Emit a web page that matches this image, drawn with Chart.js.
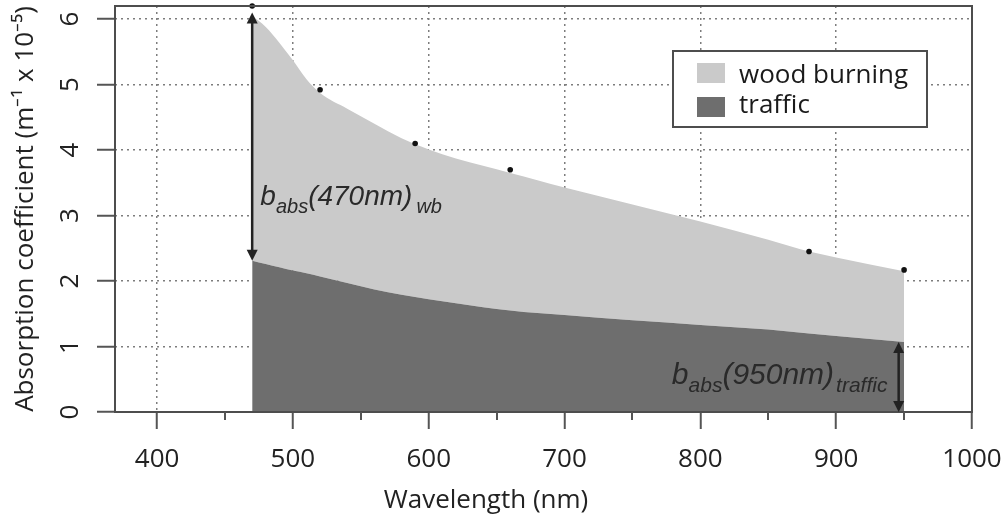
<!DOCTYPE html>
<html>
<head>
<meta charset="utf-8">
<script src="https://cdn.jsdelivr.net/npm/chart.js@4.4.0/dist/chart.umd.min.js"></script>
<style>
html, body { margin: 0; padding: 0; background: #fff; }
</style>
</head>
<body>
<canvas id="chart" width="1001" height="524"></canvas>
<script>
var longitudes = [470, 480, 490, 500, 510, 520, 540, 560, 580, 600, 620, 640, 660, 680, 700, 750, 800, 850, 880, 900, 950];
var woodBurning = [6.05, 5.88, 5.64, 5.37, 5.08, 4.87, 4.63, 4.40, 4.18, 4.01, 3.87, 3.76, 3.65, 3.54, 3.43, 3.17, 2.91, 2.63, 2.45, 2.36, 2.15];
var traffic = [2.31, 2.26, 2.21, 2.16, 2.12, 2.07, 1.97, 1.87, 1.79, 1.72, 1.66, 1.60, 1.55, 1.51, 1.48, 1.40, 1.33, 1.26, 1.20, 1.16, 1.07];
var medidasX = [470, 520, 590, 660, 880, 950];
var medidasY = [6.2, 4.92, 4.10, 3.70, 2.45, 2.17];
var ticksX = [400, 500, 600, 700, 800, 900, 1000];
var ticksXmenores = [450, 550, 650, 750, 850, 950];
var ticksY = [0, 1, 2, 3, 4, 5, 6];
var etiquetas = ['wood burning', 'traffic'];
var colores = ['#cacaca', '#6e6e6e'];

var fuente = { family: 'Open Sans', size: 26, weight: 'normal' };

function puntos(xs, ys) {
    var res = [];
    for (var i = 0; i < xs.length; i++) {
        res.push({ x: xs[i], y: ys[i] });
    }
    return res;
}

function sin_padding(s) {
    s.paddingTop = 0;
    s.paddingBottom = 0;
    s.paddingLeft = 0;
    s.paddingRight = 0;
}

function texto_sub(ctx, x, y, partes) {
    for (var i = 0; i < partes.length; i++) {
        var p = partes[i];
        x += p[3] || 0;
        ctx.font = 'italic ' + p[1] + 'px "Liberation Sans", Arial, sans-serif';
        ctx.fillText(p[0], x, y + p[2]);
        x += ctx.measureText(p[0]).width;
    }
}

function flecha(ctx, x, y1, y2) {
    var h = 11, w = 5.5;
    ctx.strokeStyle = '#222';
    ctx.fillStyle = '#222';
    ctx.lineWidth = 2.5;
    ctx.beginPath();
    ctx.moveTo(x, y1 + h - 2);
    ctx.lineTo(x, y2 - h + 2);
    ctx.stroke();
    ctx.beginPath();
    ctx.moveTo(x, y1); ctx.lineTo(x - w, y1 + h); ctx.lineTo(x + w, y1 + h); ctx.closePath();
    ctx.fill();
    ctx.beginPath();
    ctx.moveTo(x, y2); ctx.lineTo(x - w, y2 - h); ctx.lineTo(x + w, y2 - h); ctx.closePath();
    ctx.fill();
}

var extras = {
    id: 'extras',
    afterDatasetsDraw: function (chart) {
        var ctx = chart.ctx;
        var a = chart.chartArea;
        var sx = chart.scales.x;
        var sy = chart.scales.y;
        ctx.save();

        // marco
        ctx.strokeStyle = '#4d4d4d';
        ctx.lineWidth = 2;
        ctx.strokeRect(a.left, a.top, a.right - a.left, a.bottom - a.top);

        // ticks menores
        ctx.strokeStyle = '#555';
        ctx.lineWidth = 2;
        for (var i = 0; i < ticksXmenores.length; i++) {
            var px = Math.round(sx.getPixelForValue(ticksXmenores[i]));
            ctx.beginPath();
            ctx.moveTo(px, a.bottom);
            ctx.lineTo(px, a.bottom + 8);
            ctx.stroke();
        }

        // flechas
        flecha(ctx, sx.getPixelForValue(470), sy.getPixelForValue(6.1), sy.getPixelForValue(traffic[0]));
        flecha(ctx, sx.getPixelForValue(946), sy.getPixelForValue(traffic[traffic.length - 1]), sy.getPixelForValue(0));

        ctx.fillStyle = '#2a2a2a';
        ctx.textBaseline = 'alphabetic';
        ctx.textAlign = 'left';
        texto_sub(ctx, sx.getPixelForValue(476), sy.getPixelForValue(3.16),
            [['b', 28, 0], ['abs', 20, 8], ['(470nm)', 28, 0], ['wb', 20, 8, 4]]);
        texto_sub(ctx, sx.getPixelForValue(779), sy.getPixelForValue(0.42),
            [['b', 30, 0], ['abs', 21, 8], ['(950nm)', 30, 0], ['traffic', 21, 8, 2]]);

        // leyenda
        var lx = a.right - 299, ly = a.top + 45;
        ctx.fillStyle = '#fff';
        ctx.fillRect(lx, ly, 254, 76);
        ctx.strokeStyle = '#4d4d4d';
        ctx.lineWidth = 2;
        ctx.strokeRect(lx, ly, 254, 76);
        ctx.font = '26px "Open Sans", sans-serif';
        for (var j = 0; j < etiquetas.length; j++) {
            ctx.fillStyle = colores[j];
            ctx.fillRect(lx + 24, ly + 12 + j * 34, 28, 20);
            ctx.fillStyle = '#1a1a1a';
            ctx.fillText(etiquetas[j], lx + 66, ly + 32 + j * 30);
        }
        ctx.restore();
    }
};

var datos = {
    type: 'scatter',
    data: {
        datasets: [{
            label: etiquetas[1],
            data: puntos(longitudes, traffic),
            showLine: true,
            fill: 'origin',
            backgroundColor: colores[1],
            borderWidth: 0,
            pointRadius: 0,
            cubicInterpolationMode: 'monotone'
        }, {
            label: etiquetas[0],
            data: puntos(longitudes, woodBurning),
            showLine: true,
            fill: '-1',
            backgroundColor: colores[0],
            borderWidth: 0,
            pointRadius: 0,
            cubicInterpolationMode: 'monotone'
        }, {
            label: 'medidas',
            data: puntos(medidasX, medidasY),
            pointRadius: 2.8,
            pointBackgroundColor: '#111',
            pointBorderWidth: 0,
            order: -1,
            clip: false
        }]
    },
    options: {
        responsive: false,
        animation: false,
        layout: { padding: { top: 6, right: 29, left: 0, bottom: 0 } },
        plugins: {
            legend: { display: false },
            tooltip: { enabled: false },
            title: {
                display: true,
                position: 'bottom',
                text: 'Wavelength (nm)',
                color: '#222',
                font: fuente,
                padding: { top: 6, bottom: 8 }
            }
        },
        scales: {
            x: {
                type: 'linear',
                min: 369,
                max: 1000,
                afterBuildTicks: function (s) {
                    s.ticks = ticksX.map(function (v) { return { value: v }; });
                },
                afterFit: function (s) { s.height = 66.8; sin_padding(s); },
                ticks: {
                    font: fuente, color: '#222', padding: 15, maxRotation: 0, autoSkip: false,
                    callback: function (v) { return String(v); }
                },
                grid: { color: '#7d7d7d', lineWidth: 1.5, tickLength: 17, tickColor: '#555', tickWidth: 2 },
                border: { display: false, dash: [2, 4] }
            },
            y: {
                min: 0,
                max: 6.2,
                afterBuildTicks: function (s) {
                    s.ticks = ticksY.map(function (v) { return { value: v }; });
                },
                afterFit: function (s) { s.width = 115; sin_padding(s); },
                ticks: { font: fuente, color: '#222', padding: 19, minRotation: 90, maxRotation: 90, crossAlign: 'center' },
                grid: { color: '#7d7d7d', lineWidth: 1.5, tickLength: 18, tickColor: '#555', tickWidth: 2 },
                border: { display: false, dash: [2, 4] },
                title: {
                    display: true,
                    text: 'Absorption coefficient (m\u207B\u00B9 x 10\u207B\u2075)',
                    color: '#222',
                    font: fuente,
                    padding: { top: 10, bottom: 0 }
                }
            }
        }
    },
    plugins: [extras]
};

var canvas = document.getElementById('chart').getContext('2d');
window.grafico = new Chart(canvas, datos);
</script>
</body>
</html>
